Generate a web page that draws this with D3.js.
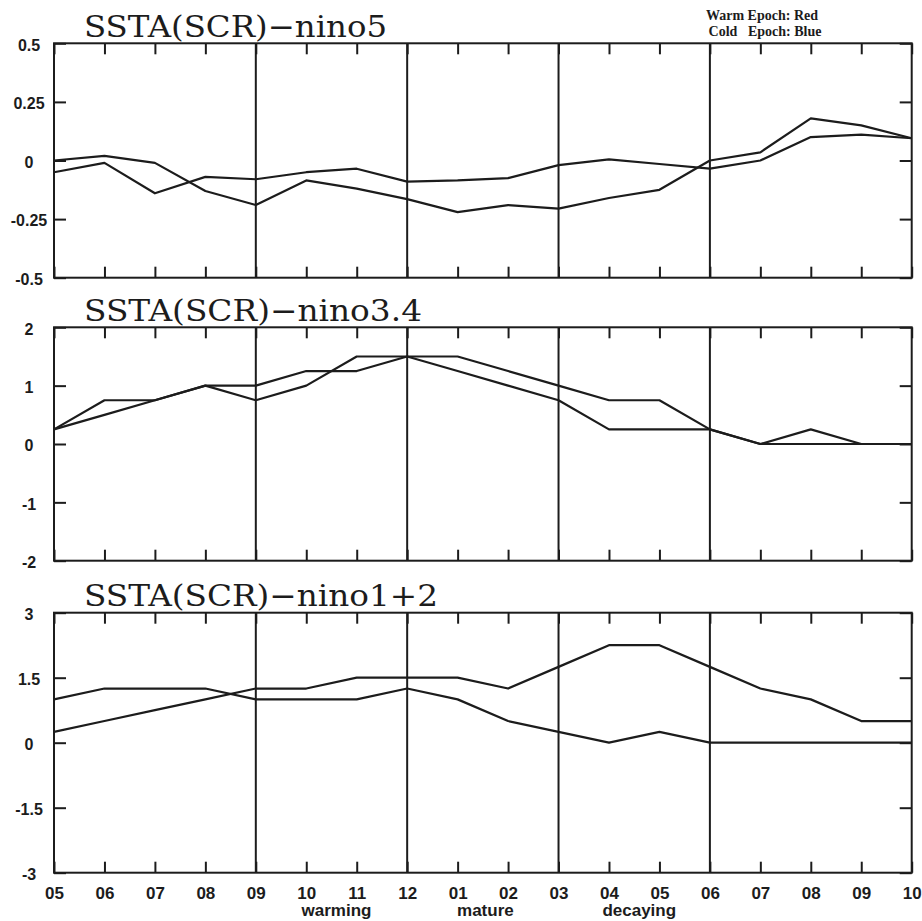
<!DOCTYPE html>
<html>
<head>
<meta charset="utf-8">
<script src="https://cdn.jsdelivr.net/npm/d3@7/dist/d3.min.js"></script>
<style>
  body { margin: 0; background: #fff; }
  svg { display: block; }
</style>
</head>
<body>
<div id="chart"></div>
<script>
// month labels along the bottom (05 of year 0 through 10 of year +1)
let months = ["05", "06", "07", "08", "09", "10", "11", "12", "01", "02", "03", "04", "05", "06", "07", "08", "09", "10"]
// phase names under the axis and the month index they sit at
let phases = ["warming", "mature", "decaying"]
let phaseAt = [5.6, 8.55, 11.6]
// month indexes with a full height divider
let dividers = [4, 7, 10, 13]

let titles = ["SSTA(SCR)\u2212nino5", "SSTA(SCR)\u2212nino3.4", "SSTA(SCR)\u2212nino1+2"]
let yDomains = [[-0.5, 0.5], [-2, 2], [-3, 3]]
let yTicks = [
  [-0.5, -0.25, 0, 0.25, 0.5],
  [-2, -1, 0, 1, 2],
  [-3, -1.5, 0, 1.5, 3]
]

// nino5
let nino5Warm = [0.0, 0.02, -0.01, -0.13, -0.19, -0.085, -0.12, -0.165, -0.22, -0.19, -0.205, -0.16, -0.125, 0.0, 0.035, 0.18, 0.15, 0.095]
let nino5Cold = [-0.05, -0.01, -0.14, -0.07, -0.08, -0.05, -0.035, -0.09, -0.085, -0.075, -0.02, 0.005, -0.015, -0.035, 0.0, 0.1, 0.11, 0.095]
// nino3.4
let nino34Warm = [0.25, 0.75, 0.75, 1.0, 1.0, 1.25, 1.25, 1.5, 1.5, 1.25, 1.0, 0.75, 0.75, 0.25, 0, 0.25, 0, 0]
let nino34Cold = [0.25, 0.5, 0.75, 1.0, 0.75, 1.0, 1.5, 1.5, 1.25, 1.0, 0.75, 0.25, 0.25, 0.25, 0, 0, 0, 0]
// nino1+2
let nino12Warm = [0.25, 0.5, 0.75, 1.0, 1.25, 1.25, 1.5, 1.5, 1.5, 1.25, 1.75, 2.25, 2.25, 1.75, 1.25, 1.0, 0.5, 0.5]
let nino12Cold = [1.0, 1.25, 1.25, 1.25, 1.0, 1.0, 1.0, 1.25, 1.0, 0.5, 0.25, 0, 0.25, 0, 0, 0, 0, 0]

let series = [
  [nino5Warm, nino5Cold],
  [nino34Warm, nino34Cold],
  [nino12Warm, nino12Cold]
]

let width = 922
let height = 921
let ink = "#1c1c1c"

let left = 54, right = 911.7
let tops = [43.3, 327.3, 612.7]
let bottoms = [277.7, 560.7, 872.7]
// how wide each title is drawn in the picture
let titleWidths = [303, 338, 354]

let svg = d3.select("#chart")
  .append("svg")
  .attr("width", width)
  .attr("height", height)
  .style("background", "#fff")

let x = d3.scaleLinear()
  .domain([0, months.length - 1])
  .range([left, right])

// legend text, top right (picture is grey scale)
let legend = svg.append("g")
  .attr("font-family", "Liberation Serif, Times New Roman, serif")
  .attr("font-weight", "bold")
  .attr("font-size", 14)
  .attr("fill", ink)
  .attr("text-anchor", "middle")
legend.append("text")
  .attr("x", 762)
  .attr("y", 20)
  .text("Warm Epoch: Red")
legend.append("text")
  .attr("x", 765)
  .attr("y", 36)
  .style("white-space", "pre")
  .text("Cold   Epoch: Blue")

titles.forEach(function(title, p) {
  let y = d3.scaleLinear()
    .domain(yDomains[p])
    .range([bottoms[p], tops[p]])

  let g = svg.append("g")

  // title
  g.append("text")
    .attr("x", 84)
    .attr("y", tops[p] - 6.5)
    .attr("font-family", "DejaVu Serif, serif")
    .attr("font-size", 30)
    .attr("textLength", titleWidths[p])
    .attr("lengthAdjust", "spacingAndGlyphs")
    .attr("fill", ink)
    .text(title)

  // ticks pointing inward on all four sides
  let top = g.append("g")
    .attr("transform", "translate(0," + tops[p] + ")")
    .call(d3.axisTop(x).tickValues(d3.range(months.length)).tickSize(-11).tickFormat(""))
  let bottom = g.append("g")
    .attr("transform", "translate(0," + bottoms[p] + ")")
    .call(d3.axisBottom(x).tickValues(d3.range(months.length)).tickSize(-11)
      .tickPadding(26)
      .tickFormat(function(i) { return p == 2 ? months[i] : "" }))
  let leftAx = g.append("g")
    .attr("transform", "translate(" + left + ",0)")
    .call(d3.axisLeft(y).tickValues(yTicks[p]).tickSize(-12).tickPadding(25)
      .tickFormat(function(v) { return String(v) }))
  let rightAx = g.append("g")
    .attr("transform", "translate(" + right + ",0)")
    .call(d3.axisRight(y).tickValues(yTicks[p]).tickSize(-12).tickFormat(""))

  ;[top, bottom, leftAx, rightAx].forEach(function(a) {
    a.select(".domain").remove()
    a.selectAll("line").attr("stroke", ink).attr("stroke-width", 2)
    a.selectAll("text")
      .attr("fill", ink)
      .attr("font-family", "Liberation Sans, Arial, sans-serif")
      .attr("font-weight", "bold")
  })
  leftAx.selectAll("text")
    .attr("text-anchor", "middle")
    .attr("font-size", 16)
    .attr("dy", "0.42em")
  bottom.selectAll("text")
    .attr("font-size", 17)
    .attr("dy", "0")

  // dividers between phases
  g.selectAll(".divider")
    .data(dividers)
    .enter()
    .append("line")
    .attr("class", "divider")
    .attr("x1", d => x(d))
    .attr("x2", d => x(d))
    .attr("y1", tops[p])
    .attr("y2", bottoms[p])
    .attr("stroke", ink)
    .attr("stroke-width", 2)

  // frame
  g.append("rect")
    .attr("x", left)
    .attr("y", tops[p])
    .attr("width", right - left)
    .attr("height", bottoms[p] - tops[p])
    .attr("fill", "none")
    .attr("stroke", ink)
    .attr("stroke-width", 2)

  let line = d3.line()
    .x((d, i) => x(i))
    .y(d => y(d))

  g.selectAll(".series")
    .data(series[p])
    .enter()
    .append("path")
    .attr("class", "series")
    .attr("d", line)
    .attr("fill", "none")
    .attr("stroke", ink)
    .attr("stroke-width", 2.2)
    .attr("stroke-linejoin", "round")
})

// phase names under the last panel
svg.append("g")
  .selectAll("text")
  .data(phases)
  .enter()
  .append("text")
  .attr("x", (d, i) => x(phaseAt[i]))
  .attr("y", 916)
  .attr("text-anchor", "middle")
  .attr("font-family", "Liberation Sans, Arial, sans-serif")
  .attr("font-weight", "bold")
  .attr("font-size", 17)
  .attr("fill", ink)
  .text(d => d)
</script>
</body>
</html>
